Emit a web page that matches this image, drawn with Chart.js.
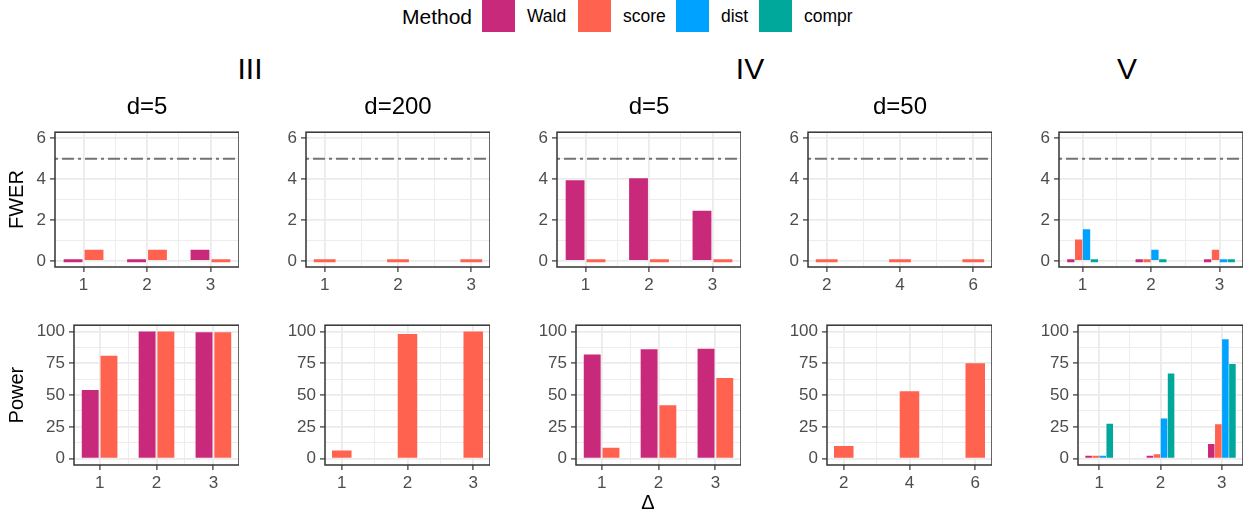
<!DOCTYPE html>
<html lang="en">
<head>
<meta charset="UTF-8">
<title>FWER and power by method</title>
<script src="https://cdn.jsdelivr.net/npm/chart.js"></script>
<style>
  body { margin: 0; width: 1250px; height: 514px; position: relative; overflow: hidden; background: #fff;
         font-family: "Liberation Sans", Arial, sans-serif; color: #000; }
  canvas { position: absolute; }
  .txt { position: absolute; white-space: nowrap; line-height: 1; }
  .ctr { transform: translate(-50%, -50%); }
  .key { position: absolute; top: 0; width: 33px; height: 32px; }
</style>
</head>
<body>
<script>
  // ---- data ----
  const methods = ['Wald', 'score', 'dist', 'compr'];
  const nominalLevel = 5;
  const fwerTicks = [0, 2, 4, 6];
  const powerTicks = [0, 25, 50, 75, 100];

  // III, d=5
  const deltaIII5 = [1, 2, 3];
  const fwerIII5Wald = [0, 0, 0.55];
  const fwerIII5Score = [0.55, 0.55, 0];
  const powerIII5Wald = [54, 100, 99.5];
  const powerIII5Score = [81, 100, 99.5];
  // III, d=200
  const deltaIII200 = [1, 2, 3];
  const fwerIII200Score = [0, 0, 0];
  const powerIII200Score = [6.5, 98, 100];
  // IV, d=5
  const deltaIV5 = [1, 2, 3];
  const fwerIV5Wald = [3.95, 4.05, 2.45];
  const fwerIV5Score = [0, 0, 0];
  const powerIV5Wald = [82, 86, 86.5];
  const powerIV5Score = [8.5, 42, 63.5];
  // IV, d=50
  const deltaIV50 = [2, 4, 6];
  const fwerIV50Score = [0, 0, 0];
  const powerIV50Score = [10, 53, 75];
  // V
  const deltaV = [1, 2, 3];
  const fwerVWald = [0, 0, 0];
  const fwerVScore = [1.05, 0, 0.55];
  const fwerVDist = [1.55, 0.55, 0];
  const fwerVCompr = [0, 0, 0];
  const powerVWald = [1.5, 2, 11.5];
  const powerVScore = [2, 3.5, 27];
  const powerVDist = [2, 31.5, 94];
  const powerVCompr = [27.5, 67, 74.5];

  // ---- styles / layout ----
  const colors = { Wald: '#C9297A', score: '#FF6350', dist: '#00A2FF', compr: '#00A89B' };
  const family = '"Liberation Sans", Arial, sans-serif';
  const colLeft = [0, 251, 502, 753, 1004];
  const rows = {
    fwer: { top: 132, height: 135, axisW: 55, min: -0.3, max: 6.3, step: 1, major: fwerTicks, title: 'FWER' },
    power: { top: 325, height: 140, axisW: 74, min: -5, max: 105, step: 12.5, major: powerTicks, title: 'Power' }
  };

  const panels = [
    { col: 0, delta: deltaIII5, xRange: [0.55, 3.45], group: 0.66, ratio: 0.9,
      fwer: { Wald: fwerIII5Wald, score: fwerIII5Score }, power: { Wald: powerIII5Wald, score: powerIII5Score } },
    { col: 1, delta: deltaIII200, xRange: [0.745, 3.255], group: 0.33, ratio: 0.9,
      fwer: { score: fwerIII200Score }, power: { score: powerIII200Score } },
    { col: 2, delta: deltaIV5, xRange: [0.55, 3.45], group: 0.66, ratio: 0.9,
      fwer: { Wald: fwerIV5Wald, score: fwerIV5Score }, power: { Wald: powerIV5Wald, score: powerIV5Score } },
    { col: 3, delta: deltaIV50, xRange: [1.49, 6.51], group: 0.66, ratio: 0.9,
      fwer: { score: fwerIV50Score }, power: { score: powerIV50Score } },
    { col: 4, delta: deltaV, xRange: [0.655, 3.345], group: 0.46, ratio: 0.93,
      fwer: { Wald: fwerVWald, score: fwerVScore, dist: fwerVDist, compr: fwerVCompr },
      power: { Wald: powerVWald, score: powerVScore, dist: powerVDist, compr: powerVCompr } }
  ];

  const panelBorder = {
    id: 'panelBorder',
    afterDraw(chart) {
      const { ctx, chartArea: a } = chart;
      ctx.save();
      ctx.strokeStyle = '#333333';
      ctx.lineWidth = 1.5;
      ctx.strokeRect(a.left, a.top, a.right - a.left, a.bottom - a.top);
      ctx.restore();
    }
  };

  const near = (arr, v) => arr.some(a => Math.abs(a - v) < 1e-6);

  function drawPanel(p, rowKey) {
    const r = rows[rowKey];
    const pad = 14, xAxisH = 30, width = 239;
    const canvas = document.createElement('canvas');
    canvas.width = width;
    canvas.height = pad + r.height + xAxisH;
    canvas.style.left = colLeft[p.col] + 'px';
    canvas.style.top = (r.top - pad) + 'px';
    document.body.appendChild(canvas);

    const series = p[rowKey];
    const datasets = Object.keys(series).map(m => ({
      type: 'bar',
      label: m,
      data: p.delta.map((x, i) => ({ x: x, y: series[m][i] })),
      backgroundColor: colors[m],
      borderWidth: 0,
      minBarLength: 3
    }));
    if (rowKey === 'fwer') {
      datasets.push({
        type: 'line',
        label: 'nominal',
        data: [{ x: p.xRange[0], y: nominalLevel }, { x: p.xRange[1], y: nominalLevel }],
        borderColor: '#737373',
        borderWidth: 1.8,
        borderDash: [3, 4, 12, 4],
        pointRadius: 0
      });
    }
    const xStep = (p.delta[1] - p.delta[0]) / 2;

    new Chart(canvas, {
      type: 'bar',
      data: { datasets },
      options: {
        responsive: false,
        animation: false,
        events: [],
        layout: { padding: { top: pad, left: 0, right: 0, bottom: 0 } },
        plugins: { legend: { display: false }, tooltip: { enabled: false } },
        datasets: { bar: { categoryPercentage: p.group / xStep, barPercentage: p.ratio } },
        scales: {
          x: {
            type: 'linear', min: p.xRange[0], max: p.xRange[1], offset: false,
            afterFit: s => { s.height = xAxisH; },
            ticks: {
              stepSize: xStep, includeBounds: false, autoSkip: false, maxRotation: 0, minRotation: 0,
              padding: 3, color: '#4D4D4D', font: { family, size: 17 },
              callback: v => near(p.delta, v) ? String(v) : ''
            },
            grid: {
              offset: false, color: '#EBEBEB', tickLength: 5, tickWidth: 1.2,
              lineWidth: c => (c.tick && near(p.delta, c.tick.value)) ? 1.8 : 0.9,
              tickColor: c => (c.tick && near(p.delta, c.tick.value)) ? '#333333' : 'rgba(0,0,0,0)'
            },
            border: { display: false }
          },
          y: {
            type: 'linear', min: r.min, max: r.max,
            afterFit: s => { s.width = r.axisW; },
            ticks: {
              stepSize: r.step, includeBounds: false, autoSkip: false, padding: 4,
              color: '#4D4D4D', font: { family, size: 17 },
              callback: v => near(r.major, v) ? String(v) : ''
            },
            grid: {
              color: '#EBEBEB', tickLength: 5, tickWidth: 1.2,
              lineWidth: c => (c.tick && near(r.major, c.tick.value)) ? 1.8 : 0.9,
              tickColor: c => (c.tick && near(r.major, c.tick.value)) ? '#333333' : 'rgba(0,0,0,0)'
            },
            border: { display: false },
            title: {
              display: p.col === 0, text: r.title, color: '#000',
              font: { family, size: 20 }, padding: { top: 5, bottom: 0 }
            }
          }
        }
      },
      plugins: [panelBorder]
    });
  }

  panels.forEach(p => { drawPanel(p, 'fwer'); drawPanel(p, 'power'); });

  // ---- text: legend, group headers, sub titles, x title ----
  function addText(text, x, y, size, centered) {
    const d = document.createElement('div');
    d.className = 'txt' + (centered ? ' ctr' : '');
    d.textContent = text;
    d.style.left = x + 'px';
    d.style.top = y + 'px';
    d.style.fontSize = size + 'px';
    document.body.appendChild(d);
  }

  addText('Method', 402, 5.5, 21, false);
  const keyLeft = [482, 578, 676, 759];
  const labelLeft = [527, 623, 721, 804];
  methods.forEach((m, i) => {
    const k = document.createElement('div');
    k.className = 'key';
    k.style.left = keyLeft[i] + 'px';
    k.style.background = colors[m];
    document.body.appendChild(k);
    addText(m, labelLeft[i], 8, 17.5, false);
  });

  addText('III', 250, 69, 30, true);
  addText('IV', 750, 69, 30, true);
  addText('V', 1127, 69, 30, true);

  const subTitles = ['d=5', 'd=200', 'd=5', 'd=50'];
  subTitles.forEach((t, i) => addText(t, colLeft[i] + 147, 106, 24, true));

  addText('\u0394', 648, 502, 20, true);
</script>
</body>
</html>
